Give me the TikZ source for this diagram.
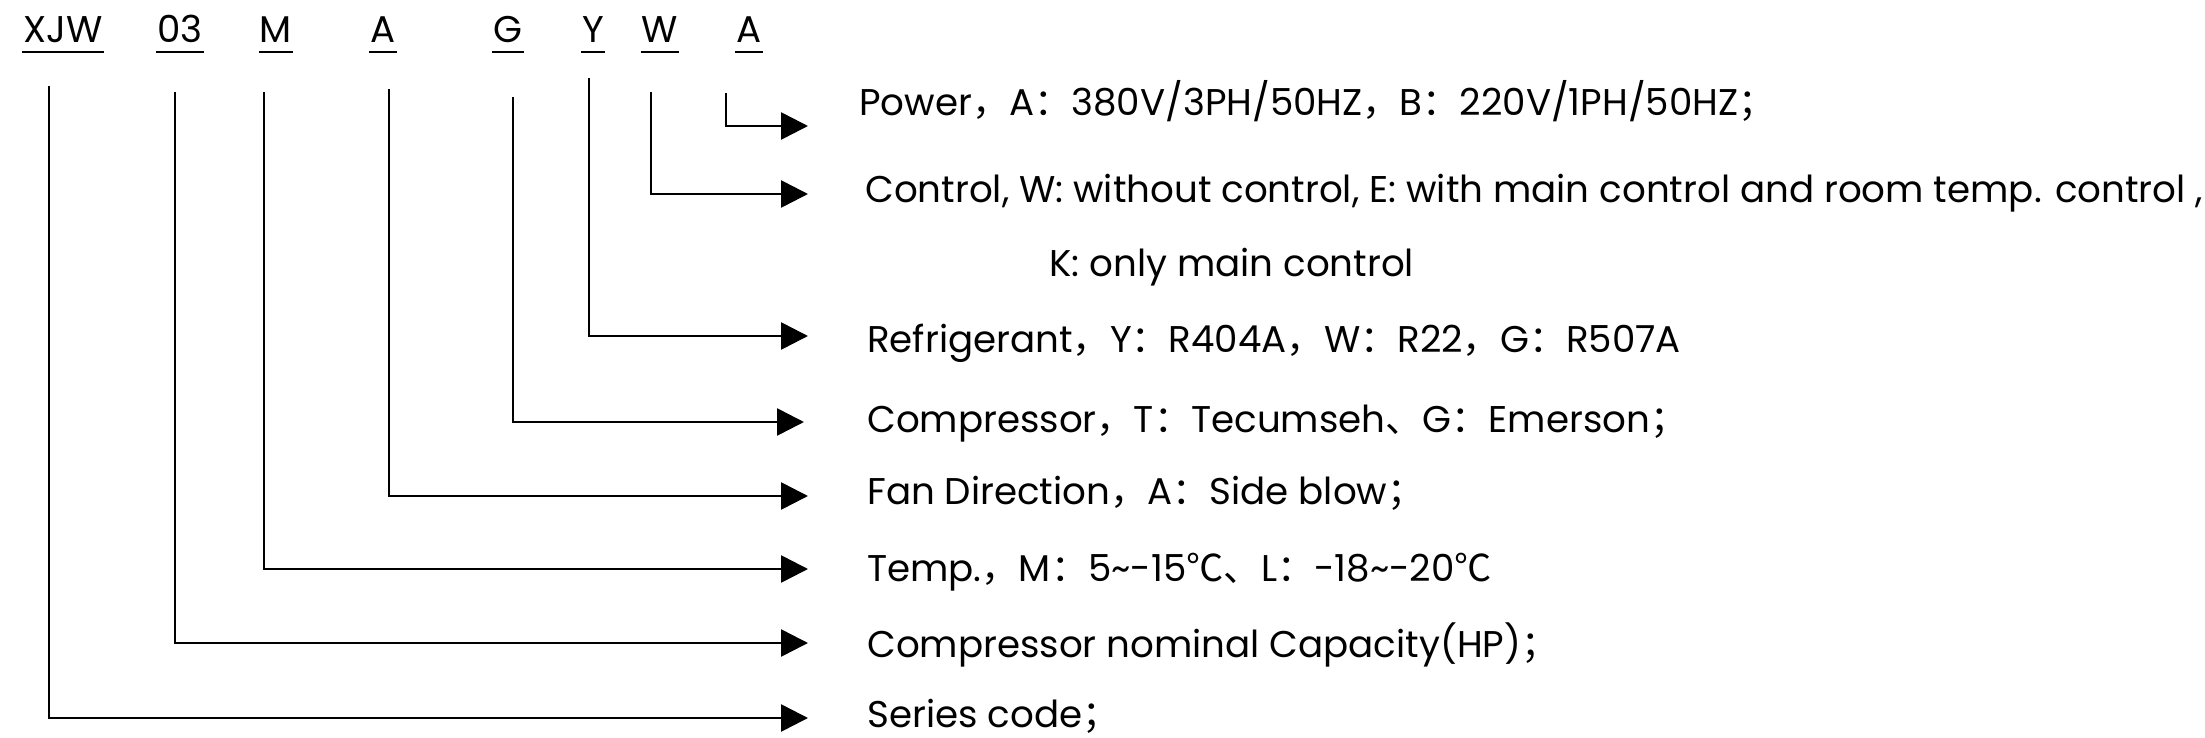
\documentclass[tikz,border=0pt]{standalone}
\usepackage{fontspec}
\setmainfont{Poppins}
\newfontfamily\cjk{Noto Sans CJK SC}
\newcommand{\fw}[1]{{\cjk #1}}
\usetikzlibrary{arrows.meta}
\usetikzlibrary{positioning}

\begin{document}
\begin{tikzpicture}[x = .5pt, y = -.5pt, line width = 1.3pt,
    code/.style = {anchor = base, inner sep = 0pt, font = \fontsize{18.6}{22}\selectfont},
    desc/.style = {anchor = west, inner sep = 0pt, text height = 13pt, text depth = 0pt,
        font = \fontsize{18.6}{22}\selectfont},
    feed/.style = {-{Triangle[length = 13.5pt, width = 13.5pt]}},
    uline/.style = {line width = 1pt}]
    \useasboundingbox (0,0) rectangle (2205,738);
    % model code
    \node[code] (xjw) at (63,43) {XJW};
    \node[code] (cap) at (180,43) {03};
    \node[code] (tmp) at (276,43) {M};
    \node[code] (fan) at (383,43) {A};
    \node[code] (cmp) at (508,43) {G};
    \node[code] (ref) at (593,43) {Y};
    \node[code] (ctl) at (660,43) {W};
    \node[code] (pwr) at (749,43) {A};
    \foreach \n in {xjw,cap,tmp,fan,cmp,ref,ctl,pwr}
        \draw[uline] ([yshift=-4.5pt]\n.base west) -- ([yshift=-4.5pt]\n.base east);
    % meanings
    \node[desc] (dpwr) at (858,103) {Power\fw{，}A\fw{：}380V/3PH/50HZ\fw{，}B\fw{：}220V/1PH/50HZ\fw{；}};
    \node[desc] (dctl) at (864,189) {Control, W: without control, E: with main control and room temp. control ,};
    \node[desc] (dctk) at (1048,263) {K: only main control};
    \node[desc] (dref) at (866,339) {Refrigerant\fw{，}Y\fw{：}R404A\fw{，}W\fw{：}R22\fw{，}G\fw{：}R507A};
    \node[desc] (dcmp) at (866,419) {Compressor\fw{，}T\fw{：}Tecumseh\fw{、}G\fw{：}Emerson\fw{；}};
    \node[desc] (dfan) at (866,491) {Fan Direction\fw{，}A\fw{：}Side blow\fw{；}};
    \node[desc] (dtmp) at (866,568) {Temp.\fw{，}M\fw{：}5\textasciitilde-15\fw{℃}\fw{、}L\fw{：}-18\textasciitilde-20\fw{℃}};
    \node[desc] (dcap) at (866,644) {Compressor nominal Capacity(HP)\fw{；}};
    \node[desc] (dxjw) at (866,714) {Series code\fw{；}};
    % line starts and arrow ends
    \coordinate (sxjw) at (49,86);   \coordinate (exjw) at (808,718);
    \coordinate (scap) at (175,92);  \coordinate (ecap) at (808,643);
    \coordinate (stmp) at (264,92);  \coordinate (etmp) at (808,569);
    \coordinate (sfan) at (389,89);  \coordinate (efan) at (808,496);
    \coordinate (scmp) at (513,97);  \coordinate (ecmp) at (804,422);
    \coordinate (sref) at (589,78);  \coordinate (eref) at (808,336);
    \coordinate (sctl) at (651,92);  \coordinate (ectl) at (808,194);
    \coordinate (spwr) at (726,93);  \coordinate (epwr) at (808,126);
    \draw[feed] (sxjw) |- (exjw);
    \draw[feed] (scap) |- (ecap);
    \draw[feed] (stmp) |- (etmp);
    \draw[feed] (sfan) |- (efan);
    \draw[feed] (scmp) |- (ecmp);
    \draw[feed] (sref) |- (eref);
    \draw[feed] (sctl) |- (ectl);
    \draw[feed] (spwr) |- (epwr);
\end{tikzpicture}
\end{document}
